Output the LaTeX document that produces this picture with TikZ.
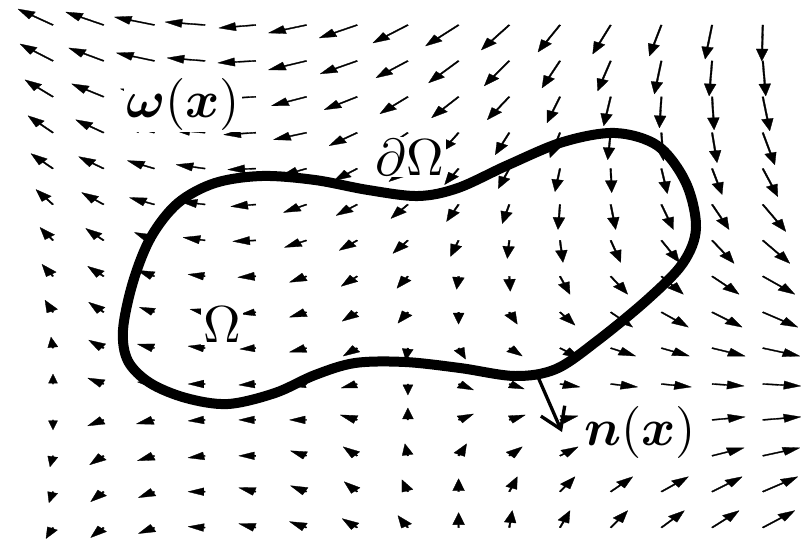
\documentclass[tikz,border=0pt]{standalone}
\usepackage{amsmath}
\usetikzlibrary{arrows.meta}
\tikzset{
  lbl/.style={fill=white, inner sep=0.4pt, scale=5.2},
  boundary/.style={line width=10pt, line join=round},
  normalarrow/.style={line width=3.3pt, line cap=round, -{Straight Barb[length=20pt,width=26pt,line width=3.3pt]}},
  fieldarrow/.style={fill=black, draw=black, line width=0.3pt, line join=round},
}
% quiver arrow: tail (#1,#2), vector (#3,#4) in image pixels (y down)
\newcommand\qvarrow[4]{%
  \pgfmathsetmacro\qex{(#3)/1.41}%
  \pgfmathsetmacro\qey{#4}%
  \pgfmathsetmacro\qL{veclen(\qex,\qey)}%
  \pgfmathsetmacro\qAx{1.41*\qex/\qL}%
  \pgfmathsetmacro\qAy{-1*\qey/\qL}%
  \pgfmathsetmacro\qBx{-1.41*\qey/\qL}%
  \pgfmathsetmacro\qBy{-1*\qex/\qL}%
  \pgfmathsetmacro\qs{min(1,\qL/13)}%
  \pgfmathsetmacro\qb{\qL-12*\qs}%
  \pgfmathsetmacro\qw{0.6*\qs}%
  \pgfmathsetmacro\qh{4.2*\qs}%
  \begin{scope}[shift={(#1,#2)}, x={(\qAx pt,\qAy pt)}, y={(\qBx pt,\qBy pt)}]
    \filldraw[fieldarrow] (0,\qw) -- (\qb,\qw) -- (\qb,\qh) -- (\qL,0) -- (\qb,-\qh) -- (\qb,-\qw) -- (0,-\qw) -- cycle;
  \end{scope}%
}
% one row of the field: #1 = row index, #2 = list dx/dy
\newcommand\qrow[2]{%
  \foreach \dx/\dy [count=\i from 0] in {#2} {%
    \pgfmathsetmacro\qxx{53+50.7*\i}%
    \pgfmathsetmacro\qyy{25+35.9*#1}%
    \qvarrow{\qxx}{\qyy}{\dx}{\dy}%
  }%
}
\begin{document}
\begin{tikzpicture}[x=1pt,y=-1pt]
\path[use as bounding box] (0,0) rectangle (809,541);
\qrow{0}{-35/-16,-38/-13,-40/-8,-40/-3,-37/3,-38/8,-38/13,-35/18,-33/21,-28/25,-22/27,-18/29,-12/31,-7/34,-1/36}
\qrow{1}{-33/-17,-35/-13,-38/-8,-38/-3,-38/2,-38/9,-37/13,-32/17,-30/22,-25/25,-18/27,-13/30,-7/33,-3/35,3/35}
\qrow{2}{-28/-17,-32/-13,-34/-8,-35/-3,-35/2,-35/9,-33/13,-28/17,-27/21,-22/23,-13/26,-7/29,-2/31,2/33,7/34}
\qrow{3}{-25/-17,-28/-13,-30/-8,-32/-3,-32/2,-33/7,-28/13,-24/16,-17/19,-14/22,-10/25,-3/27,2/28,5/30,12/32}
\qrow{4}{-22/-15,-25/-12,-27/-8,-29/-4,-28/1,-25/7,-23/12,-19/13,-14/16,-11/20,-5/23,1/24,6/25,10/26,15/28}
\qrow{5}{-17/-15,-22/-12,-25/-7,-25/-3,-25/2,-23/8,-21/11,-17/14,-12/17,-7/19,-2/25,5/25,12/25,17/25,23/27}
\qrow{6}{-13/-13,-18/-12,-20/-8,-22/-3,-23/1,-22/7,-18/10,-15/13,-8/16,-2/18,3/22,10/22,18/22,22/23,27/23}
\qrow{7}{-11/-12,-16/-10,-17/-6,-17/-2,-18/1,-17/6,-16/10,-11/12,-2/13,1/15,10/18,17/18,22/18,27/18,32/18}
\qrow{8}{-8/-12,-15/-10,-15/-5,-15/-3,-15/2,-17/5,-15/9,-10/11,0/12,8/12,15/13,22/15,27/15,30/15,35/15}
\qrow{9}{-2/-11,-15/-8,-17/-4,-17/-2,-16/1,-17/4,-14/8,-2/12,7/11,13/8,20/10,25/8,28/8,33/8,37/8}
\qrow{10}{0/-10,-16/-6,-17/-2,-17/0,-17/1,-16/2,-16/4,0/11,15/6,15/5,20/3,27/3,30/3,32/2,38/2}
\qrow{11}{0/10,-16/6,-18/4,-17/1,-17/0,-17/0,-17/-5,0/-12,15/-6,16/-5,18/-4,24/-4,29/-3,33/-3,38/-3}
\qrow{12}{-3/11,-14/9,-17/5,-17/2,-17/0,-16/-5,-14/-9,-3/-12,8/-12,13/-9,18/-9,24/-9,29/-9,32/-8,37/-8}
\qrow{13}{-4/11,-13/10,-16/6,-17/0,-17/-4,-16/-6,-13/-10,-6/-12,0/-13,8/-15,15/-15,22/-15,27/-15,30/-15,35/-15}
\qrow{14}{-7/11,-13/10,-16/6,-17/-1,-17/-4,-17/-6,-15/-9,-10/-12,0/-15,3/-17,10/-17,17/-17,23/-17,27/-17,32/-17}
\draw[boundary] plot[smooth cycle, tension=0.55] coordinates {
 (123,330) (133,282) (151,237) (178,203) (215,183) (262,176) (315,180) (368,190)
 (418,196) (458,188) (508,165) (563,142) (615,133) (658,146) (686,183) (696,228)
 (683,263) (648,299) (597,341) (556,369) (515,376) (460,368) (405,362) (355,363)
 (315,375) (275,393) (228,404) (186,398) (150,383) (128,361)};
\node[lbl] (omega) at (183,104) {$\boldsymbol{\omega}(\boldsymbol{x})$};
\node[lbl] (dOmega) at (410,157) {$\partial\Omega$};
\node[lbl] (Omega) at (222,325) {$\Omega$};
\node[lbl] (nlabel) at (640,432) {$\boldsymbol{n}(\boldsymbol{x})$};
\coordinate (nbase) at (538,377);
\coordinate (ntip) at (562,432);
\draw[normalarrow] (nbase) -- (ntip);
\end{tikzpicture}
\end{document}
